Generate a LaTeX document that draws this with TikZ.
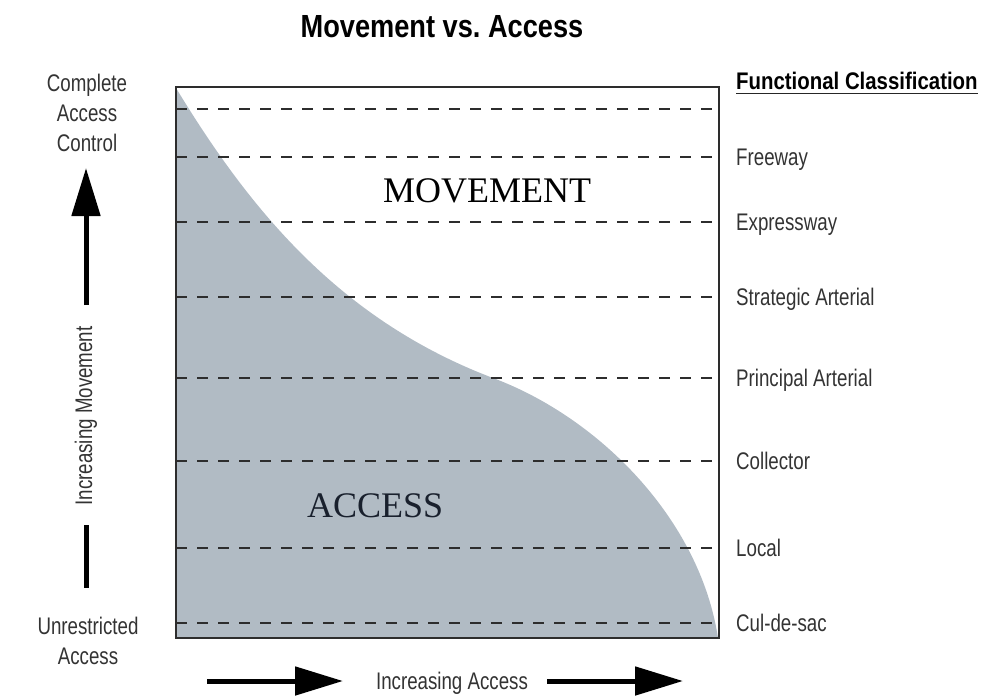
\documentclass[tikz,border=0pt]{standalone}
\usepackage{fontspec}
\setmainfont{Liberation Sans}[FakeStretch=0.78]
\newfontfamily\headfont{Liberation Sans}[FakeStretch=0.85]
\newfontfamily\bigserif{Liberation Serif}
\usepackage{tikz}
\usetikzlibrary{arrows.meta}
\definecolor{areagray}{RGB}{177,187,196}
\definecolor{framegray}{RGB}{45,45,45}
\definecolor{accessink}{RGB}{25,32,45}
\tikzstyle{classtext} = [anchor=base west, inner sep=0pt, font=\fontsize{24}{30}\selectfont, text=black!80]
\tikzstyle{sidetext} = [anchor=north, inner sep=0pt, align=center, font=\fontsize{24}{30}\selectfont, text=black!80]
\tikzstyle{zonetext} = [anchor=base west, inner sep=0pt, font=\bigserif\fontsize{36}{40}\selectfont]
\tikzstyle{levelline} = [line width=1.8pt, dash pattern=on 11pt off 10pt, color=framegray]
\tikzstyle{bigarrow} = [line width=5pt, -{Triangle[length=48pt,width=28pt]}]

\begin{document}
\begin{tikzpicture}[x=1pt, y=-1pt]
\useasboundingbox (0,0) rectangle (1003,698);

% title
\node (title) [anchor=base, inner sep=0pt, font=\headfont\bfseries\fontsize{32}{36}\selectfont] at (442,38) {Movement vs.\ Access};

% shaded access area
\fill[areagray] (176,638) -- (176,88) .. controls (250,210) and (340,320) .. (493,378)
  .. controls (600,418) and (700,520) .. (718,638) -- cycle;

% class levels
\draw[levelline] (176,109) -- (716,109);
\draw[levelline] (176,157) -- (716,157);
\draw[levelline] (176,222) -- (716,222);
\draw[levelline] (176,297) -- (716,297);
\draw[levelline] (176,378) -- (716,378);
\draw[levelline] (176,461) -- (716,461);
\draw[levelline] (176,548) -- (716,548);
\draw[levelline] (176,623) -- (716,623);

\draw[framegray, line width=2pt] (176,87) rectangle (719,638);

\node (move) [zonetext, text=black] at (383,202) {MOVEMENT};
\node (acc) [zonetext, text=accessink] at (307,517) {ACCESS};

% functional classification
\node (fc) [anchor=base west, inner sep=0pt, font=\headfont\bfseries\fontsize{24}{28}\selectfont] at (736,90) {Functional Classification};
\draw[line width=1.6pt, black!85] ([yshift=-3.5pt]fc.base west) -- ([yshift=-3.5pt]fc.base east);

\node (fw) [classtext] at (736,165) {Freeway};
\node (ew) [classtext] at (736,230) {Expressway};
\node (sa) [classtext] at (736,305) {Strategic Arterial};
\node (pa) [classtext] at (736,386) {Principal Arterial};
\node (col) [classtext] at (736,469) {Collector};
\node (loc) [classtext] at (736,556) {Local};
\node (cds) [classtext] at (736,631) {Cul-de-sac};

% movement axis
\node (ctrl) [sidetext] at (87,74) {Complete\\Access\\Control};
\node (free) [sidetext] at (88,617) {Unrestricted\\Access};
\node (mv) [rotate=90, inner sep=0pt, font=\fontsize{24}{30}\selectfont, text=black!80] at (86,416) {Increasing Movement};
\coordinate (mvtop) at (86,305);
\coordinate (mvtip) at (86,168);
\coordinate (mvlow) at (86,525);
\coordinate (mvend) at (86,588);
\draw[bigarrow] (mvtop) -- (mvtip);
\draw[line width=5pt] (mvlow) -- (mvend);

% access axis
\node (ia) [anchor=base, inner sep=0pt, font=\fontsize{24}{30}\selectfont, text=black!80] at (452,689) {Increasing Access};
\coordinate (la) at (207,681);
\coordinate (latip) at (343,681);
\coordinate (ra) at (547,681);
\coordinate (ratip) at (683,681);
\draw[bigarrow] (la) -- (latip);
\draw[bigarrow] (ra) -- (ratip);

\end{tikzpicture}
\end{document}
